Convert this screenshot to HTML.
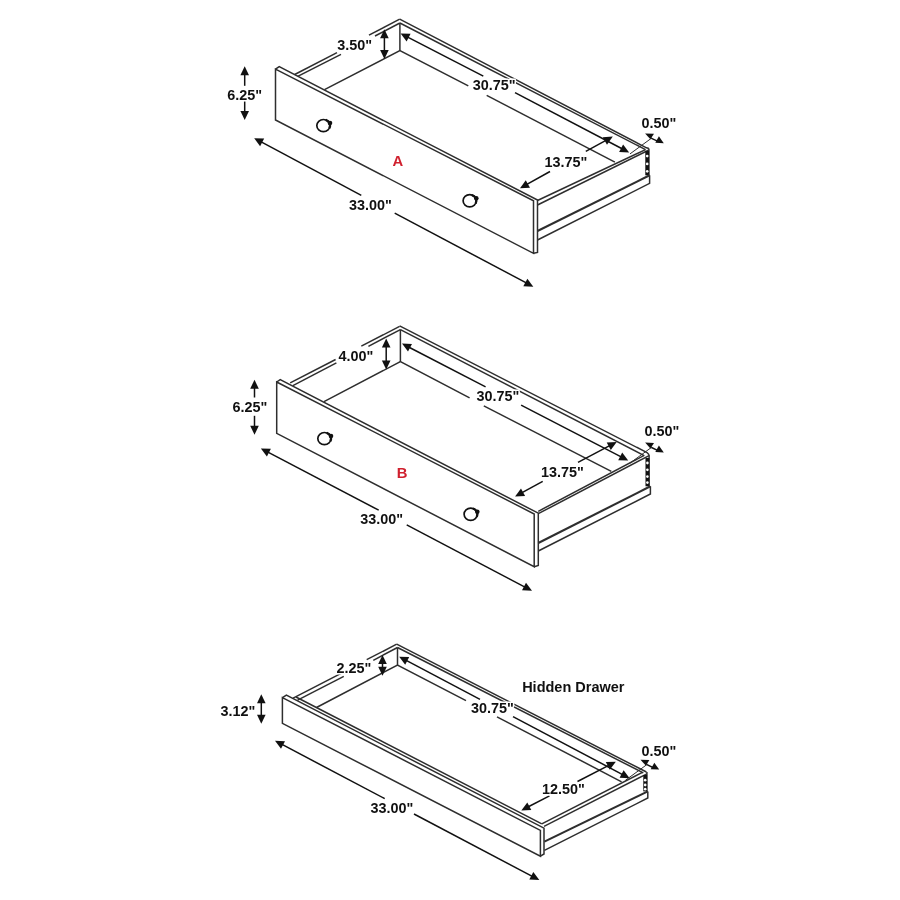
<!DOCTYPE html>
<html><head><meta charset="utf-8"><style>
html,body{margin:0;padding:0;background:#fff;width:900px;height:900px;overflow:hidden}
svg{display:block;will-change:transform}
path,ellipse{fill:none;stroke:#2e2e2e;stroke-linecap:butt;stroke-linejoin:miter}
.k{stroke:#111}
.f{fill:#111;stroke:none}
.w{fill:#fff;stroke:none}
text{font-family:"Liberation Sans",sans-serif;font-weight:bold;stroke:#fff;stroke-width:3px;paint-order:stroke;stroke-linejoin:round}
.halo{stroke:#fff;stroke-width:4px;fill:#fff}
</style></head><body>
<svg width="900" height="900" viewBox="0 0 900 900">
<path d="M275.5,69.2 L533.5,200.8 L533.5,253.3 L275.5,120.0 Z" stroke-width="1.5"/>
<path d="M275.5,69.2 L279.2,66.7 L537.5,200.0 L537.5,252.5 L533.5,253.3" stroke-width="1.5"/>
<path d="M294.7,74.5 L337.0,52.6" stroke-width="1.5"/>
<path d="M369.0,35.2 L399.7,19.2" stroke-width="1.5"/>
<path d="M297.7,76.3 L341.0,54.3" stroke-width="1.5"/>
<path d="M375.0,36.0 L399.9,23.0" stroke-width="1.5"/>
<path d="M399.7,19.2 L646.5,147.8 L648.9,148.4" stroke-width="1.5"/>
<path d="M399.9,23.0 L645.5,149.6" stroke-width="1.5"/>
<path d="M399.9,23.0 L399.9,50.7" stroke-width="1.5"/>
<path d="M324.5,89.6 L399.9,50.7 L468.3,85.9" stroke-width="1.5"/>
<path d="M486.7,95.4 L614.9,162.2" stroke-width="1.5"/>
<path d="M537.5,200.5 L645.5,149.6" stroke-width="1.5"/>
<path d="M537.5,205.0 L648.9,150.0" stroke-width="1.5"/>
<path d="M648.9,148.4 L648.9,175.3" stroke-width="1.5"/>
<rect class="f" x="645.3" y="151.0" width="3.8" height="24.3"/>
<ellipse class="w" cx="647.2" cy="156.1" rx="1.3" ry="1.4"/>
<ellipse class="w" cx="647.2" cy="163.9" rx="1.3" ry="1.4"/>
<ellipse class="w" cx="647.2" cy="171.3" rx="1.3" ry="1.4"/>
<path d="M537.5,231.0 L649.6,175.3" stroke-width="2.1"/>
<path d="M537.5,240.0 L649.6,183.4 L649.6,175.3" stroke-width="1.5"/>
<ellipse class="k" cx="323.4" cy="125.6" rx="6.6" ry="6.1" stroke-width="1.7"/>
<circle class="f" cx="330.0" cy="123.1" r="2.3"/>
<path class="k" d="M325.7,119.9 A6.6,6.1 0 0 1 329.4,128.2" stroke-width="2.3"/>
<ellipse class="k" cx="469.7" cy="200.8" rx="6.6" ry="6.1" stroke-width="1.7"/>
<circle class="f" cx="476.3" cy="198.3" r="2.3"/>
<path class="k" d="M472.0,195.1 A6.6,6.1 0 0 1 475.7,203.4" stroke-width="2.3"/>
<path class="k" d="M244.7,72.6 L244.7,85.8" stroke-width="1.5"/>
<path class="k" d="M244.7,100.8 L244.7,113.7" stroke-width="1.5"/>
<path class="f" d="M244.7,66.3 L249.0,75.3 L240.4,75.3 Z"/>
<path class="f" d="M244.7,120.0 L240.4,111.0 L249.0,111.0 Z"/>
<text x="244.6" y="100.0" font-size="14.4" fill="#111" text-anchor="middle">6.25"</text>
<path class="k" d="M384.4,35.5 L384.4,52.6" stroke-width="1.5"/>
<path class="f" d="M384.4,29.2 L388.7,38.2 L380.1,38.2 Z"/>
<path class="f" d="M384.4,58.9 L380.1,49.9 L388.7,49.9 Z"/>
<text x="354.7" y="50.0" font-size="14.4" fill="#111" text-anchor="middle">3.50"</text>
<path class="k" d="M406.2,36.3 L483.3,76.1" stroke-width="1.5"/>
<path class="k" d="M515.0,92.6 L623.5,149.5" stroke-width="1.5"/>
<path class="f" d="M400.6,33.4 L410.6,33.7 L406.6,41.4 Z"/>
<path class="f" d="M629.1,152.4 L619.1,152.1 L623.1,144.4 Z"/>
<text x="494.2" y="90.0" font-size="14.4" fill="#111" text-anchor="middle">30.75"</text>
<path class="k" d="M607.3,139.7 L585.8,151.3" stroke-width="1.5"/>
<path class="k" d="M550.0,171.5 L525.5,185.2" stroke-width="1.5"/>
<path class="f" d="M612.8,136.6 L607.0,144.7 L602.8,137.2 Z"/>
<path class="f" d="M520.0,188.3 L525.8,180.2 L530.0,187.7 Z"/>
<text x="565.8" y="166.7" font-size="14.4" fill="#111" text-anchor="middle">13.75"</text>
<path class="f" d="M645.1,133.4 L654.0,133.7 L650.4,139.2 Z"/>
<path class="f" d="M658.9,136.3 L663.8,143.2 L655.3,142.8 Z"/>
<path class="k" d="M650.5,137.8 L658.5,141.6" stroke-width="1.4"/>
<path d="M630.0,153.9 L652.0,137.8" stroke-width="1.0"/>
<text x="659.0" y="127.5" font-size="14.4" fill="#111" text-anchor="middle">0.50"</text>
<path class="k" d="M259.8,141.2 L361.3,195.3" stroke-width="1.5"/>
<path class="k" d="M394.7,213.1 L527.7,283.7" stroke-width="1.5"/>
<path class="f" d="M254.2,138.2 L264.2,138.6 L260.1,146.2 Z"/>
<path class="f" d="M533.3,286.7 L523.3,286.3 L527.4,278.7 Z"/>
<text x="370.5" y="209.7" font-size="14.4" fill="#111" text-anchor="middle">33.00"</text>
<text x="397.9" y="165.7" font-size="14.8" fill="#d0202e" text-anchor="middle">A</text>
<path d="M276.7,382.0 L534.2,514.0 L534.2,566.7 L276.7,433.3 Z" stroke-width="1.5"/>
<path d="M276.7,382.0 L280.2,379.6 L538.3,513.2 L538.3,565.4 L534.2,566.7" stroke-width="1.5"/>
<path d="M290.2,382.9 L335.6,359.5" stroke-width="1.5"/>
<path d="M361.3,346.2 L399.6,326.4" stroke-width="1.5"/>
<path d="M292.9,385.6 L336.4,362.9" stroke-width="1.5"/>
<path d="M368.4,346.3 L400.4,329.6" stroke-width="1.5"/>
<path d="M399.6,325.9 L647.0,452.6 L649.1,454.8" stroke-width="1.5"/>
<path d="M400.4,329.6 L644.2,455.6" stroke-width="1.5"/>
<path d="M400.4,329.6 L400.4,361.6" stroke-width="1.5"/>
<path d="M324.0,401.6 L400.4,361.6 L469.6,397.8" stroke-width="1.5"/>
<path d="M483.8,405.8 L611.3,471.3" stroke-width="1.5"/>
<path d="M538.3,511.3 L644.2,455.4" stroke-width="1.5"/>
<path d="M538.3,513.7 L649.1,455.6" stroke-width="1.5"/>
<path d="M649.1,454.8 L649.1,486.3" stroke-width="1.5"/>
<rect class="f" x="645.5" y="458.0" width="3.8" height="28.3"/>
<ellipse class="w" cx="647.4" cy="463.0" rx="1.3" ry="1.4"/>
<ellipse class="w" cx="647.4" cy="469.8" rx="1.3" ry="1.4"/>
<ellipse class="w" cx="647.4" cy="476.6" rx="1.3" ry="1.4"/>
<ellipse class="w" cx="647.4" cy="482.6" rx="1.3" ry="1.4"/>
<path d="M538.3,543.0 L650.4,486.3" stroke-width="2.1"/>
<path d="M538.3,551.0 L650.4,494.0 L650.4,486.3" stroke-width="1.5"/>
<ellipse class="k" cx="324.4" cy="438.6" rx="6.6" ry="6.1" stroke-width="1.7"/>
<circle class="f" cx="331.0" cy="436.1" r="2.3"/>
<path class="k" d="M326.7,432.9 A6.6,6.1 0 0 1 330.4,441.2" stroke-width="2.3"/>
<ellipse class="k" cx="470.7" cy="514.2" rx="6.6" ry="6.1" stroke-width="1.7"/>
<circle class="f" cx="477.3" cy="511.7" r="2.3"/>
<path class="k" d="M473.0,508.5 A6.6,6.1 0 0 1 476.7,516.8" stroke-width="2.3"/>
<path class="k" d="M254.5,386.0 L254.5,397.5" stroke-width="1.5"/>
<path class="k" d="M254.5,415.8 L254.5,428.4" stroke-width="1.5"/>
<path class="f" d="M254.5,379.7 L258.8,388.7 L250.2,388.7 Z"/>
<path class="f" d="M254.5,434.7 L250.2,425.7 L258.8,425.7 Z"/>
<text x="250.0" y="411.7" font-size="14.4" fill="#111" text-anchor="middle">6.25"</text>
<path class="k" d="M386.2,344.7 L386.2,363.3" stroke-width="1.5"/>
<path class="f" d="M386.2,338.4 L390.5,347.4 L381.9,347.4 Z"/>
<path class="f" d="M386.2,369.6 L381.9,360.6 L390.5,360.6 Z"/>
<text x="356.0" y="360.8" font-size="14.4" fill="#111" text-anchor="middle">4.00"</text>
<path class="k" d="M407.6,346.5 L485.6,386.8" stroke-width="1.5"/>
<path class="k" d="M521.1,405.2 L622.6,457.7" stroke-width="1.5"/>
<path class="f" d="M402.0,343.6 L412.0,343.9 L408.0,351.6 Z"/>
<path class="f" d="M628.2,460.6 L618.2,460.3 L622.2,452.6 Z"/>
<text x="498.0" y="400.6" font-size="14.4" fill="#111" text-anchor="middle">30.75"</text>
<path class="k" d="M611.1,444.9 L578.0,462.3" stroke-width="1.5"/>
<path class="k" d="M542.7,481.3 L520.7,493.4" stroke-width="1.5"/>
<path class="f" d="M616.7,441.9 L610.8,449.9 L606.7,442.4 Z"/>
<path class="f" d="M515.1,496.4 L521.0,488.4 L525.1,495.9 Z"/>
<text x="562.5" y="476.7" font-size="14.4" fill="#111" text-anchor="middle">13.75"</text>
<path class="f" d="M645.1,442.6 L654.0,442.9 L650.4,448.4 Z"/>
<path class="f" d="M658.9,445.5 L663.8,452.4 L655.3,452.0 Z"/>
<path class="k" d="M650.5,447.0 L658.5,450.8" stroke-width="1.4"/>
<path d="M630.0,463.1 L652.0,447.0" stroke-width="1.0"/>
<text x="662.0" y="436.3" font-size="14.4" fill="#111" text-anchor="middle">0.50"</text>
<path class="k" d="M266.5,451.3 L378.7,510.2" stroke-width="1.5"/>
<path class="k" d="M406.7,524.9 L526.4,587.8" stroke-width="1.5"/>
<path class="f" d="M260.9,448.4 L270.9,448.8 L266.9,456.4 Z"/>
<path class="f" d="M532.0,590.7 L522.0,590.3 L526.0,582.7 Z"/>
<text x="381.7" y="524.0" font-size="14.4" fill="#111" text-anchor="middle">33.00"</text>
<text x="402.2" y="477.7" font-size="14.8" fill="#d0202e" text-anchor="middle">B</text>
<path d="M282.4,697.7 L540.4,830.4 L540.4,856.2 L282.4,723.4 Z" stroke-width="1.5"/>
<path d="M282.4,697.7 L286.4,695.1 L544.0,828.2 L544.0,854.0 L540.4,856.2" stroke-width="1.5"/>
<path d="M296.0,697.0 L541.8,823.8" stroke-width="1.5"/>
<path d="M293.1,698.1 L345.0,671.3" stroke-width="1.5"/>
<path d="M366.7,659.7 L396.7,644.2" stroke-width="1.5"/>
<path d="M297.6,700.2 L343.8,676.4" stroke-width="1.5"/>
<path d="M373.3,660.3 L397.5,647.5" stroke-width="1.5"/>
<path d="M396.7,644.2 L646.4,772.0" stroke-width="1.5"/>
<path d="M397.5,647.5 L643.3,772.9" stroke-width="1.5"/>
<path d="M397.5,647.5 L397.5,665.0" stroke-width="1.5"/>
<path d="M316.5,707.5 L397.5,665.0 L466.0,700.7" stroke-width="1.5"/>
<path d="M497.0,716.8 L621.6,781.8" stroke-width="1.5"/>
<path d="M541.8,823.8 L642.4,772.4" stroke-width="1.5"/>
<path d="M544.0,826.4 L646.9,773.8" stroke-width="1.5"/>
<path d="M646.9,772.0 L646.9,791.4" stroke-width="1.5"/>
<rect class="f" x="643.3" y="775.0" width="3.8" height="16.4"/>
<ellipse class="w" cx="645.2" cy="780.2" rx="1.3" ry="1.4"/>
<ellipse class="w" cx="645.2" cy="785.0" rx="1.3" ry="1.4"/>
<ellipse class="w" cx="645.2" cy="789.2" rx="1.3" ry="1.4"/>
<path d="M544.4,841.6 L647.8,791.4" stroke-width="2.1"/>
<path d="M544.4,850.4 L647.8,798.0 L647.8,791.4" stroke-width="1.5"/>
<path class="k" d="M261.3,700.5 L261.3,717.4" stroke-width="1.5"/>
<path class="f" d="M261.3,694.2 L265.6,703.2 L257.0,703.2 Z"/>
<path class="f" d="M261.3,723.7 L257.0,714.7 L265.6,714.7 Z"/>
<text x="237.8" y="715.6" font-size="14.4" fill="#111" text-anchor="middle">3.12"</text>
<path class="k" d="M382.5,661.3 L382.5,669.5" stroke-width="1.5"/>
<path class="f" d="M382.5,655.0 L386.8,664.0 L378.2,664.0 Z"/>
<path class="f" d="M382.5,675.8 L378.2,666.8 L386.8,666.8 Z"/>
<text x="353.9" y="672.5" font-size="14.4" fill="#111" text-anchor="middle">2.25"</text>
<path class="k" d="M404.8,659.6 L480.0,699.3" stroke-width="1.5"/>
<path class="k" d="M513.0,716.7 L624.0,775.3" stroke-width="1.5"/>
<path class="f" d="M399.2,656.7 L409.2,657.1 L405.2,664.7 Z"/>
<path class="f" d="M629.6,778.2 L619.6,777.8 L623.6,770.2 Z"/>
<text x="492.5" y="712.5" font-size="14.4" fill="#111" text-anchor="middle">30.75"</text>
<path class="k" d="M610.2,764.7 L577.5,781.5" stroke-width="1.5"/>
<path class="k" d="M549.5,795.9 L526.9,807.5" stroke-width="1.5"/>
<path class="f" d="M615.8,761.8 L609.8,769.7 L605.8,762.1 Z"/>
<path class="f" d="M521.3,810.4 L527.3,802.5 L531.3,810.1 Z"/>
<text x="563.5" y="794.0" font-size="14.4" fill="#111" text-anchor="middle">12.50"</text>
<path class="f" d="M640.5,759.8 L649.4,760.1 L645.8,765.6 Z"/>
<path class="f" d="M654.3,762.7 L659.2,769.6 L650.7,769.2 Z"/>
<path class="k" d="M645.9,764.2 L653.9,768.0" stroke-width="1.4"/>
<path d="M625.4,780.3 L647.4,764.2" stroke-width="1.0"/>
<text x="659.0" y="756.0" font-size="14.4" fill="#111" text-anchor="middle">0.50"</text>
<path class="k" d="M280.6,743.7 L384.7,798.6" stroke-width="1.5"/>
<path class="k" d="M414.0,814.0 L533.7,877.1" stroke-width="1.5"/>
<path class="f" d="M275.0,740.8 L285.0,741.2 L281.0,748.8 Z"/>
<path class="f" d="M539.3,880.0 L529.3,879.6 L533.3,872.0 Z"/>
<text x="392.0" y="813.0" font-size="14.4" fill="#111" text-anchor="middle">33.00"</text>
<text x="573.3" y="691.5" font-size="14.5" fill="#111" text-anchor="middle">Hidden Drawer</text>
</svg></body></html>
